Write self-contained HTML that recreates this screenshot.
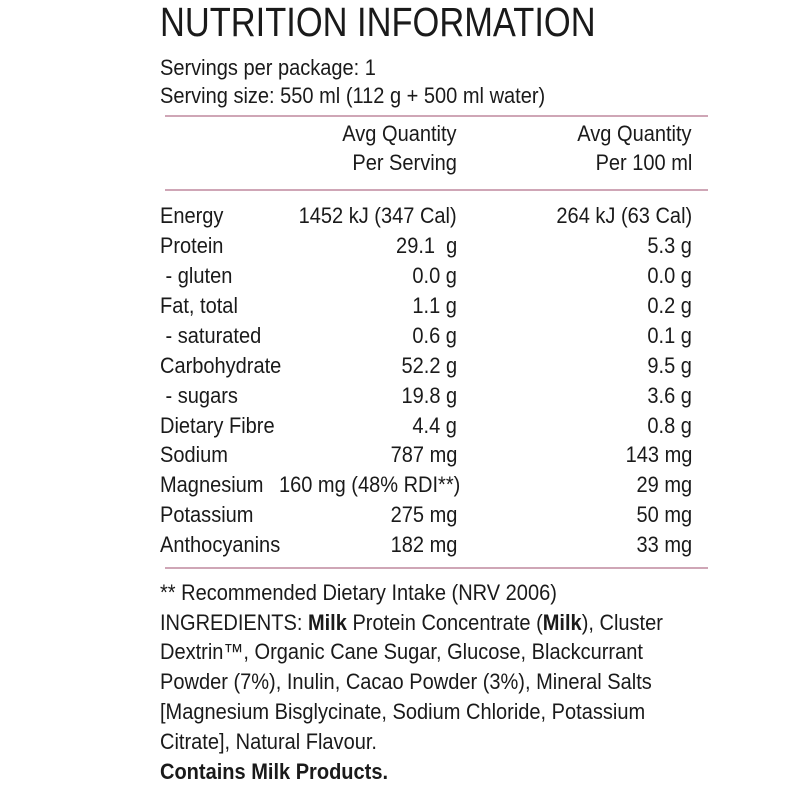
<!DOCTYPE html>
<html><head><meta charset="utf-8"><style>
body{margin:0;width:800px;height:798px;background:#fff;position:relative;overflow:hidden;font-family:"Liberation Sans",sans-serif;color:#1a1a1a}
.t{position:absolute;white-space:nowrap;font-size:22px;line-height:24px;transform:scaleX(0.91);transform-origin:left center}
.r{position:absolute;white-space:nowrap;font-size:22px;line-height:24px;transform:scaleX(0.91);transform-origin:right center;text-align:right}
.hr{position:absolute;left:165px;width:543px;height:2px;background:#cfa6b6}
b{font-weight:bold}
</style></head><body>
<div class="t" style="left:160px;top:0px;font-size:41px;line-height:44px;transform:scaleX(0.84)">NUTRITION INFORMATION</div>
<div class="t" style="left:160px;top:56px">Servings per package: 1</div>
<div class="t" style="left:160px;top:84px">Serving size: 550 ml (112 g + 500 ml water)</div>
<div class="hr" style="top:115px"></div>
<div class="r" style="right:343px;top:122px">Avg Quantity</div>
<div class="r" style="right:343px;top:151px">Per Serving</div>
<div class="r" style="right:108px;top:122px">Avg Quantity</div>
<div class="r" style="right:108px;top:151px">Per 100 ml</div>
<div class="hr" style="top:189px"></div>

<div class="t" style="left:160px;top:204px">Energy</div><div class="r" style="right:343px;top:204px">1452 kJ (347 Cal)</div><div class="r" style="right:108px;top:204px">264 kJ (63 Cal)</div>
<div class="t" style="left:160px;top:234px">Protein</div><div class="r" style="right:343px;top:234px">29.1 &nbsp;g</div><div class="r" style="right:108px;top:234px">5.3 g</div>
<div class="t" style="left:160px;top:264px">&nbsp;- gluten</div><div class="r" style="right:343px;top:264px">0.0 g</div><div class="r" style="right:108px;top:264px">0.0 g</div>
<div class="t" style="left:160px;top:294px">Fat, total</div><div class="r" style="right:343px;top:294px">1.1 g</div><div class="r" style="right:108px;top:294px">0.2 g</div>
<div class="t" style="left:160px;top:324px">&nbsp;- saturated</div><div class="r" style="right:343px;top:324px">0.6 g</div><div class="r" style="right:108px;top:324px">0.1 g</div>
<div class="t" style="left:160px;top:354px">Carbohydrate</div><div class="r" style="right:343px;top:354px">52.2 g</div><div class="r" style="right:108px;top:354px">9.5 g</div>
<div class="t" style="left:160px;top:384px">&nbsp;- sugars</div><div class="r" style="right:343px;top:384px">19.8 g</div><div class="r" style="right:108px;top:384px">3.6 g</div>
<div class="t" style="left:160px;top:414px">Dietary Fibre</div><div class="r" style="right:343px;top:414px">4.4 g</div><div class="r" style="right:108px;top:414px">0.8 g</div>
<div class="t" style="left:160px;top:443px">Sodium</div><div class="r" style="right:343px;top:443px">787 mg</div><div class="r" style="right:108px;top:443px">143 mg</div>
<div class="t" style="left:160px;top:473px">Magnesium</div><div class="r" style="right:340px;top:473px">160 mg (48% RDI**)</div><div class="r" style="right:108px;top:473px">29 mg</div>
<div class="t" style="left:160px;top:503px">Potassium</div><div class="r" style="right:343px;top:503px">275 mg</div><div class="r" style="right:108px;top:503px">50 mg</div>
<div class="t" style="left:160px;top:533px">Anthocyanins</div><div class="r" style="right:343px;top:533px">182 mg</div><div class="r" style="right:108px;top:533px">33 mg</div>
<div class="hr" style="top:567px"></div>

<div class="t" style="left:160px;top:581px">** Recommended Dietary Intake (NRV 2006)</div>
<div class="t" style="left:160px;top:611px">INGREDIENTS: <b>Milk</b> Protein Concentrate (<b>Milk</b>), Cluster</div>
<div class="t" style="left:160px;top:640px">Dextrin™, Organic Cane Sugar, Glucose, Blackcurrant</div>
<div class="t" style="left:160px;top:670px">Powder (7%), Inulin, Cacao Powder (3%), Mineral Salts</div>
<div class="t" style="left:160px;top:700px">[Magnesium Bisglycinate, Sodium Chloride, Potassium</div>
<div class="t" style="left:160px;top:730px">Citrate], Natural Flavour.</div>
<div class="t" style="left:160px;top:760px"><b>Contains Milk Products.</b></div>
</body></html>
